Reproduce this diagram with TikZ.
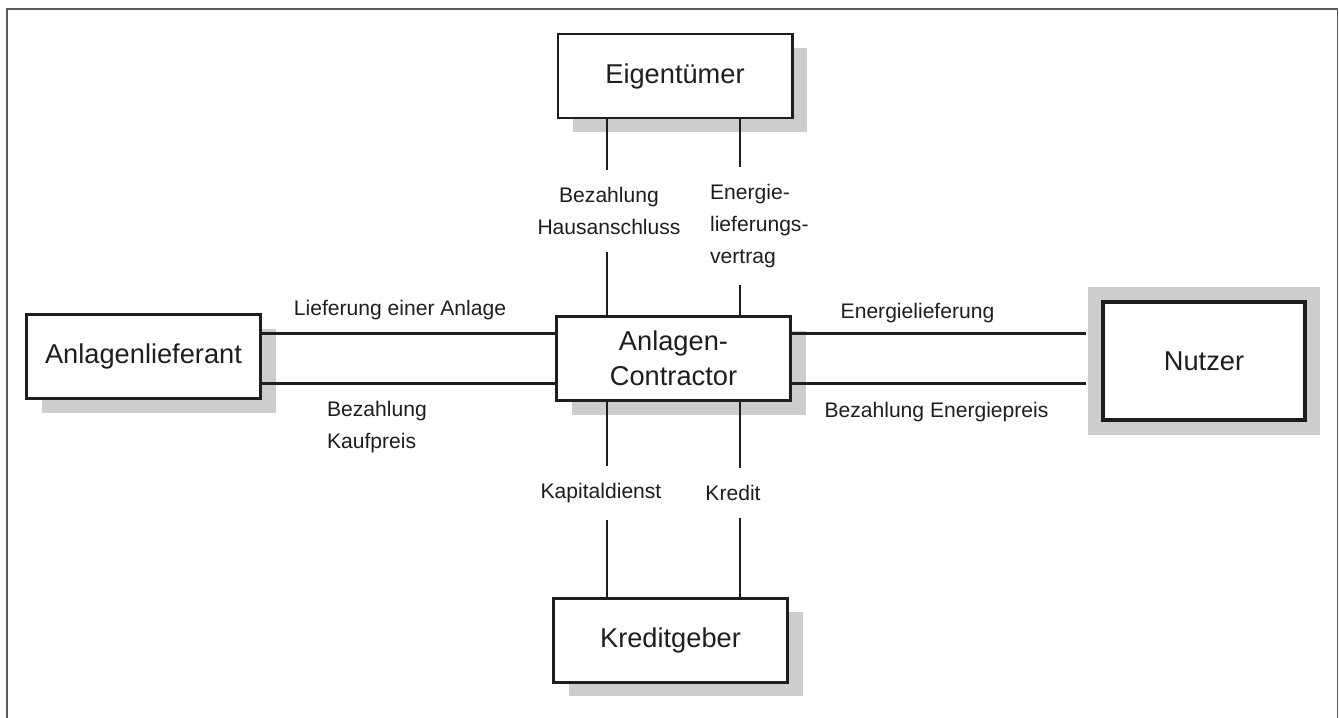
\documentclass[tikz,border=0pt]{standalone}
\usepackage{fontspec}
\setmainfont{Liberation Sans}
\usepackage{tikz}
\usetikzlibrary{calc,positioning,shadows}
\definecolor{boxcolor}{RGB}{30,30,30}
\definecolor{shadecolor}{RGB}{205,205,205}
\definecolor{framecolor}{RGB}{90,90,90}
\tikzstyle{box}=[draw=boxcolor,line width=1.7pt,fill=white,text=boxcolor,minimum width=4.68cm,minimum height=1.68cm,inner sep=0pt,align=center,font=\fontsize{15.5}{20}\selectfont]
\tikzstyle{party}=[box,drop shadow={shadow xshift=0.3cm,shadow yshift=-0.28cm,fill=shadecolor,opacity=1}]
\tikzstyle{framed party}=[box,line width=2.4pt,minimum width=4.04cm,minimum height=2.36cm,preaction={draw=shadecolor,line width=0.6cm}]
\tikzstyle{flowedge}=[draw=boxcolor,line width=1.6pt]
\tikzstyle{flowlabel}=[text=boxcolor,font=\fontsize{12}{18}\selectfont,inner xsep=1pt,inner ysep=0pt]
\tikzstyle{gaplabel}=[flowlabel,fill=white,inner ysep=0.35cm]

\begin{document}
\begin{tikzpicture}
\def\edgesep{5mm}
\def\vsep{13.3mm}
    \useasboundingbox (0,0) rectangle (26.78,-14.34);
    \draw[framecolor,line width=1pt] (0.14,-14.6) -- (0.14,-0.18) -- (26.75,-0.18) -- (26.75,-14.6);

    % parties
    \node[party] (eig) at (13.5,-1.52) {Eigentümer};
    \node[party] (con) at (13.47,-7.17) {Anlagen-\\Contractor};
    \node[party] (kred) at (13.41,-12.8) {Kreditgeber};
    \node[party] (lief) at (2.87,-7.13) {Anlagenlieferant};
    \node[framed party] (nutz) at (24.08,-7.22) {Nutzer};

    % horizontal flows
    \draw[flowedge] ([yshift=\edgesep]con.west) -- ([yshift=\edgesep]con.west -| lief.east);
    \draw[flowedge] ([yshift=-\edgesep]con.west) -- ([yshift=-\edgesep]con.west -| lief.east);
    \draw[flowedge] ([yshift=\edgesep]con.east) -- ($([yshift=\edgesep]con.east -| nutz.west)+(-3mm,0)$);
    \draw[flowedge] ([yshift=-\edgesep]con.east) -- ($([yshift=-\edgesep]con.east -| nutz.west)+(-3mm,0)$);

    % vertical flows
    \foreach \side in {-1,1} {
        \draw[flowedge] ([xshift=\side*\vsep]con.north) -- ([xshift=\side*\vsep]con.north |- eig.south);
        \draw[flowedge] ([xshift=\side*\vsep]con.south) -- ([xshift=\side*\vsep]con.south |- kred.north);
    }

    \node[flowlabel] (liefl) at (8.0,-6.2) {Lieferung einer Anlage};
    \node[flowlabel,anchor=west,align=left] (kaufl) at (6.5,-8.54) {Bezahlung\\Kaufpreis};
    \node[flowlabel] (energl) at (18.35,-6.26) {Energielieferung};
    \node[flowlabel] (preisl) at (18.73,-8.24) {Bezahlung Energiepreis};

    \node[gaplabel,align=center] (hausl) at (12.18,-4.22) {Bezahlung\\Hausanschluss};
    \node[gaplabel,anchor=west,align=left] (vertragl) at (14.16,-4.52) {Energie-\\lieferungs-\\vertrag};
    \node[gaplabel] (kapl) at (12.02,-9.86) {Kapitaldienst};
    \node[gaplabel] (kredl) at (14.66,-9.86) {Kredit};

\end{tikzpicture}
\end{document}
